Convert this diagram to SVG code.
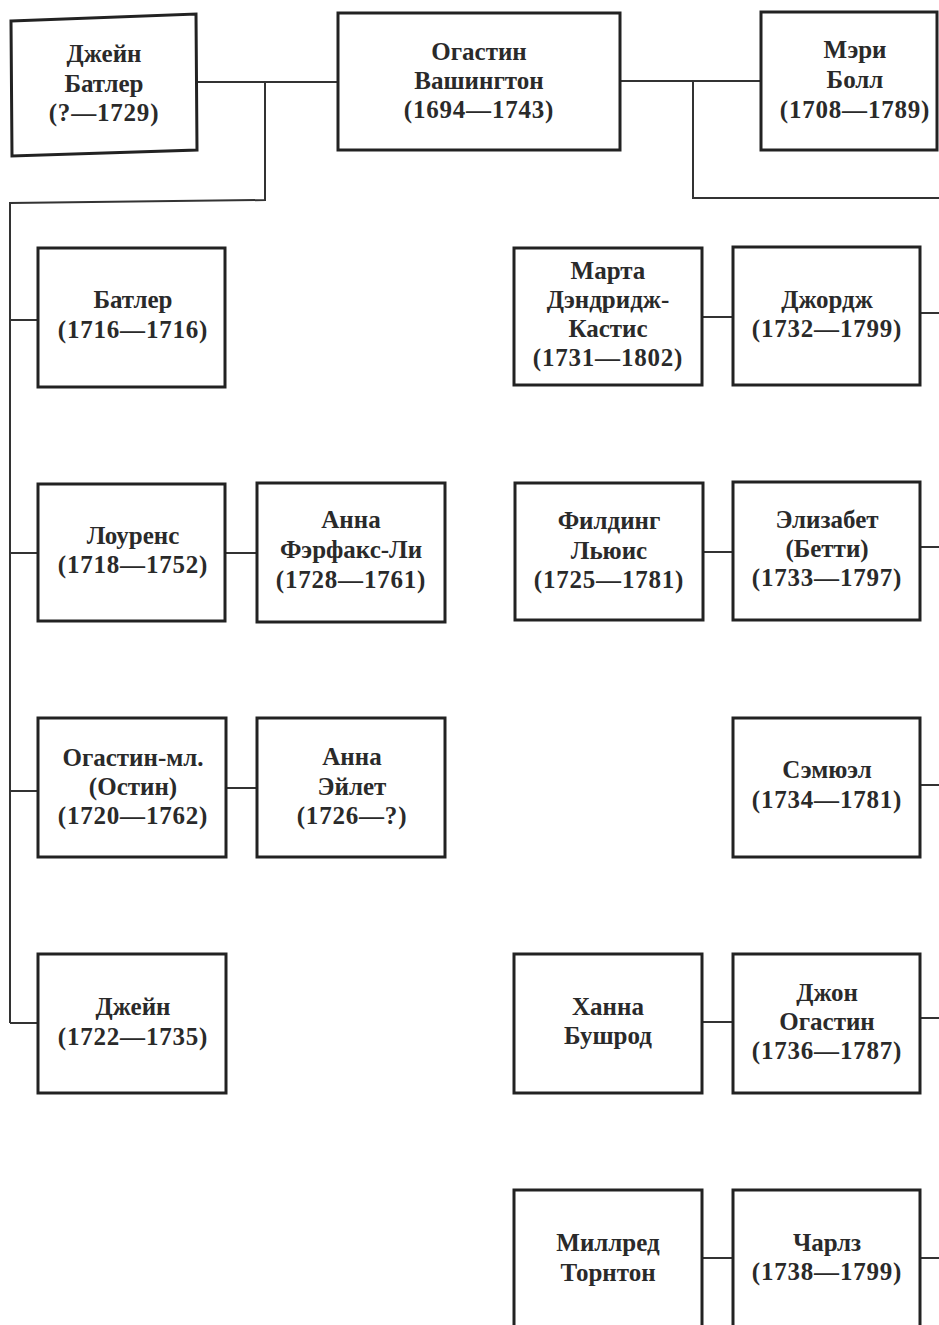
<svg xmlns="http://www.w3.org/2000/svg" width="939" height="1325" viewBox="0 0 939 1325">
<style>
.b{fill:#fff;stroke:#222;stroke-width:3}
.c{fill:none;stroke:#333;stroke-width:2}
text{font-family:"Liberation Serif","Times New Roman",serif;font-weight:bold;font-size:25px;fill:#2a2a2a;text-anchor:middle}
.d{letter-spacing:0.8px}
</style>
<rect width="939" height="1325" fill="#fff"/>
<g id="connectors">
<path class="c" d="M197,82 H338"/>
<path class="c" d="M265,82 V200 L10,203 V1023"/>
<path class="c" d="M10,320 H38 M10,553 H38 M10,791 H38 M10,1023 H38"/>
<path class="c" d="M620,81 H761"/>
<path class="c" d="M693,81 V198 H939"/>
<path class="c" d="M225,553 H257"/>
<path class="c" d="M226,788 H257"/>
<path class="c" d="M702,317 H733 M920,313 H939"/>
<path class="c" d="M703,552 H733 M920,547 H939"/>
<path class="c" d="M920,785 H939"/>
<path class="c" d="M702,1022 H733 M920,1018 H939"/>
<path class="c" d="M702,1258 H733 M920,1258 H939"/>
</g>
<g id="jane-butler">
<polygon class="b" points="11,21 196,14 197,150 12,156"/>
<text x="104" y="62">Джейн</text>
<text x="104" y="92">Батлер</text>
<text x="104" y="121" class="d">(?—1729)</text>
</g>
<g id="augustine">
<rect class="b" x="338" y="13" width="282" height="137"/>
<text x="479" y="60">Огастин</text>
<text x="479" y="89">Вашингтон</text>
<text x="479" y="118" class="d">(1694—1743)</text>
</g>
<g id="mary-ball">
<rect class="b" x="761" y="12" width="176" height="138"/>
<text x="855" y="58">Мэри</text>
<text x="855" y="88">Болл</text>
<text x="855" y="118" class="d">(1708—1789)</text>
</g>
<g id="butler">
<rect class="b" x="38" y="248" width="187" height="139"/>
<text x="133" y="308">Батлер</text>
<text x="133" y="338" class="d">(1716—1716)</text>
</g>
<g id="lawrence">
<rect class="b" x="38" y="484" width="187" height="137"/>
<text x="133" y="544">Лоуренс</text>
<text x="133" y="573" class="d">(1718—1752)</text>
</g>
<g id="anne-fairfax">
<rect class="b" x="257" y="483" width="188" height="139"/>
<text x="351" y="528">Анна</text>
<text x="351" y="558">Фэрфакс-Ли</text>
<text x="351" y="588" class="d">(1728—1761)</text>
</g>
<g id="augustine-jr">
<rect class="b" x="38" y="718" width="188" height="139"/>
<text x="133" y="766">Огастин-мл.</text>
<text x="133" y="795">(Остин)</text>
<text x="133" y="824" class="d">(1720—1762)</text>
</g>
<g id="anne-aylett">
<rect class="b" x="257" y="718" width="188" height="139"/>
<text x="352" y="765">Анна</text>
<text x="352" y="795">Эйлет</text>
<text x="352" y="824" class="d">(1726—?)</text>
</g>
<g id="jane">
<rect class="b" x="38" y="954" width="188" height="139"/>
<text x="133" y="1015">Джейн</text>
<text x="133" y="1045" class="d">(1722—1735)</text>
</g>
<g id="martha">
<rect class="b" x="514" y="248" width="188" height="137"/>
<text x="608" y="279">Марта</text>
<text x="608" y="308">Дэндридж-</text>
<text x="608" y="337">Кастис</text>
<text x="608" y="366" class="d">(1731—1802)</text>
</g>
<g id="george">
<rect class="b" x="733" y="247" width="187" height="138"/>
<text x="827" y="308">Джордж</text>
<text x="827" y="337" class="d">(1732—1799)</text>
</g>
<g id="fielding">
<rect class="b" x="515" y="483" width="188" height="137"/>
<text x="609" y="529">Филдинг</text>
<text x="609" y="559">Льюис</text>
<text x="609" y="588" class="d">(1725—1781)</text>
</g>
<g id="elizabeth">
<rect class="b" x="733" y="482" width="187" height="138"/>
<text x="827" y="528">Элизабет</text>
<text x="827" y="557">(Бетти)</text>
<text x="827" y="586" class="d">(1733—1797)</text>
</g>
<g id="samuel">
<rect class="b" x="733" y="718" width="187" height="139"/>
<text x="827" y="778">Сэмюэл</text>
<text x="827" y="808" class="d">(1734—1781)</text>
</g>
<g id="hannah">
<rect class="b" x="514" y="954" width="188" height="139"/>
<text x="608" y="1015">Ханна</text>
<text x="608" y="1044">Бушрод</text>
</g>
<g id="john-augustine">
<rect class="b" x="733" y="954" width="187" height="139"/>
<text x="827" y="1001">Джон</text>
<text x="827" y="1030">Огастин</text>
<text x="827" y="1059" class="d">(1736—1787)</text>
</g>
<g id="mildred">
<rect class="b" x="514" y="1190" width="188" height="150"/>
<text x="608" y="1251">Миллред</text>
<text x="608" y="1281">Торнтон</text>
</g>
<g id="charles">
<rect class="b" x="733" y="1190" width="187" height="150"/>
<text x="827" y="1251">Чарлз</text>
<text x="827" y="1280" class="d">(1738—1799)</text>
</g>
</svg>
